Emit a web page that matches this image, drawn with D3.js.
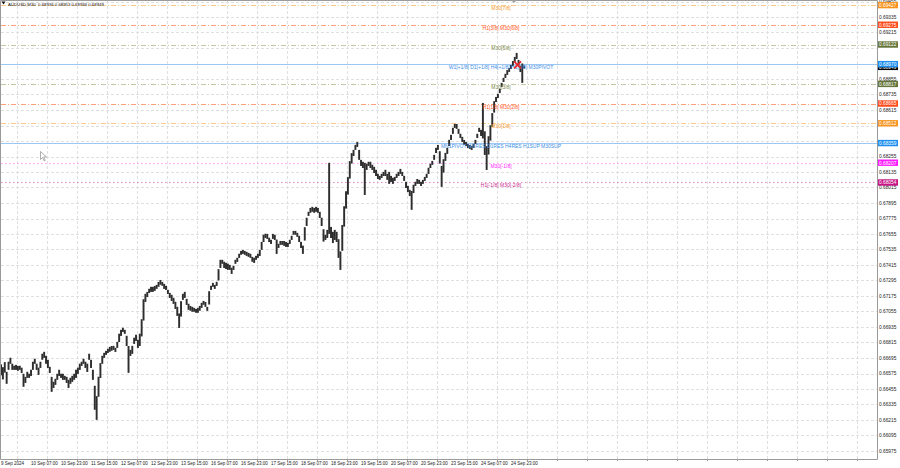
<!DOCTYPE html>
<html><head><meta charset="utf-8">
<script src="https://cdn.jsdelivr.net/npm/d3@7"></script>
<style>html,body{margin:0;padding:0;background:#fff;}svg{display:block;font-family:"Liberation Sans",Arial,sans-serif;}</style>
</head><body><svg id="c" width="900" height="468"></svg>
<script>
const symbolTitle = "AUDUSD,M30  0.68936 0.68953 0.68936 0.68949";
const lastPrice = 0.68949;
// hourly high / low (bar 0 = 9 Sep 15:00)
const barHighs = [
0.66646,0.66624,0.66663,0.66588,0.66666,0.66697,0.66651,0.66635,0.66642,0.66634,0.66635,0.66620,0.66573,0.66549,0.66588,0.66573,
0.66604,0.66666,0.66689,0.66651,0.66620,0.66666,0.66728,0.66743,0.66712,0.66681,0.66627,0.66549,0.66511,0.66534,0.66573,0.66604,
0.66573,0.66573,0.66557,0.66549,0.66526,0.66542,0.66557,0.66573,0.66604,0.66620,0.66651,0.66666,0.66689,0.66666,0.66651,0.66728,
0.66681,0.66604,0.66480,0.66400,0.66550,0.66655,0.66712,0.66735,0.66750,0.66766,0.66781,0.66788,0.66789,0.66774,0.66820,0.66883,
0.66913,0.66929,0.66913,0.66867,0.66788,0.66758,0.66789,0.66852,0.66875,0.66836,0.66883,0.66995,0.67150,0.67192,0.67207,0.67231,
0.67246,0.67246,0.67253,0.67261,0.67284,0.67299,0.67284,0.67269,0.67254,0.67223,0.67199,0.67184,0.67161,0.67130,0.67091,0.67040,
0.67135,0.67192,0.67207,0.67153,0.67115,0.67098,0.67091,0.67083,0.67075,0.67083,0.67098,0.67122,0.67137,0.67129,0.67091,0.67212,
0.67254,0.67277,0.67261,0.67285,0.67383,0.67455,0.67455,0.67440,0.67432,0.67425,0.67416,0.67394,0.67409,0.67455,0.67471,0.67502,
0.67524,0.67531,0.67524,0.67517,0.67509,0.67502,0.67478,0.67471,0.67486,0.67502,0.67532,0.67594,0.67649,0.67657,0.67656,0.67626,
0.67610,0.67656,0.67649,0.67612,0.67579,0.67601,0.67601,0.67601,0.67593,0.67586,0.67610,0.67641,0.67679,0.67679,0.67664,0.67641,
0.67594,0.67565,0.67708,0.67781,0.67827,0.67857,0.67865,0.67857,0.67865,0.67857,0.67827,0.67781,0.67692,0.67649,0.67687,0.68206,
0.67710,0.67672,0.67687,0.67672,0.67615,0.67520,0.67725,0.67870,0.67986,0.68095,0.68219,0.68281,0.68306,0.68345,0.68367,0.68306,
0.68229,0.68214,0.68206,0.68199,0.68214,0.68214,0.68191,0.68175,0.68152,0.68121,0.68105,0.68121,0.68136,0.68152,0.68121,0.68136,
0.68105,0.68090,0.68097,0.68121,0.68136,0.68159,0.68136,0.68105,0.68059,0.68028,0.67997,0.67988,0.68036,0.68059,0.68081,0.68074,
0.68059,0.68074,0.68097,0.68121,0.68168,0.68199,0.68221,0.68268,0.68322,0.68345,0.68296,0.68182,0.68234,0.68283,0.68322,0.68384,
0.68423,0.68477,0.68508,0.68507,0.68469,0.68431,0.68407,0.68383,0.68367,0.68352,0.68344,0.68336,0.68353,0.68384,0.68431,0.68477,
0.68461,0.68670,0.68450,0.68335,0.68412,0.68497,0.68591,0.68683,0.68716,0.68740,0.68779,0.68825,0.68864,0.68895,0.68924,0.68940,
0.68963,0.68994,0.69026,0.69057,0.69003,0.68956,0.68975,0.68960];
const barLows = [
0.66561,0.66529,0.66582,0.66495,0.66603,0.66650,0.66603,0.66603,0.66603,0.66596,0.66603,0.66579,0.66472,0.66502,0.66541,0.66541,
0.66556,0.66603,0.66650,0.66603,0.66564,0.66618,0.66681,0.66696,0.66650,0.66618,0.66579,0.66433,0.66463,0.66487,0.66526,0.66556,
0.66541,0.66526,0.66526,0.66502,0.66463,0.66495,0.66510,0.66526,0.66541,0.66572,0.66603,0.66634,0.66650,0.66618,0.66587,0.66681,
0.66618,0.66526,0.66294,0.66216,0.66395,0.66540,0.66650,0.66696,0.66719,0.66734,0.66743,0.66751,0.66758,0.66742,0.66773,0.66819,
0.66866,0.66897,0.66882,0.66788,0.66580,0.66711,0.66727,0.66804,0.66827,0.66773,0.66788,0.66862,0.66985,0.67129,0.67167,0.67198,
0.67207,0.67207,0.67215,0.67230,0.67246,0.67262,0.67254,0.67230,0.67222,0.67191,0.67160,0.67137,0.67114,0.67075,0.67021,0.66928,
0.67016,0.67145,0.67160,0.67106,0.67068,0.67061,0.67053,0.67053,0.67045,0.67045,0.67061,0.67083,0.67107,0.67091,0.67060,0.67109,
0.67222,0.67246,0.67230,0.67253,0.67295,0.67392,0.67424,0.67392,0.67384,0.67377,0.67377,0.67346,0.67377,0.67424,0.67439,0.67470,
0.67494,0.67501,0.67494,0.67485,0.67478,0.67470,0.67440,0.67431,0.67455,0.67470,0.67485,0.67532,0.67593,0.67624,0.67617,0.67593,
0.67578,0.67617,0.67609,0.67501,0.67547,0.67571,0.67571,0.67563,0.67555,0.67555,0.67578,0.67609,0.67649,0.67649,0.67633,0.67593,
0.67547,0.67501,0.67604,0.67717,0.67795,0.67819,0.67827,0.67819,0.67827,0.67819,0.67779,0.67717,0.67596,0.67609,0.67624,0.67656,
0.67624,0.67585,0.67609,0.67593,0.67470,0.67377,0.67525,0.67712,0.67852,0.67960,0.68084,0.68200,0.68259,0.68306,0.68329,0.68229,
0.68182,0.68166,0.67957,0.68151,0.68182,0.68166,0.68151,0.68127,0.68104,0.68081,0.68074,0.68089,0.68104,0.68104,0.68074,0.68043,
0.68058,0.68043,0.68066,0.68089,0.68104,0.68120,0.68104,0.68066,0.68011,0.67980,0.67949,0.67842,0.67972,0.68027,0.68043,0.68043,
0.68027,0.68043,0.68066,0.68089,0.68120,0.68166,0.68190,0.68229,0.68282,0.68306,0.68200,0.68020,0.68130,0.68221,0.68275,0.68336,
0.68383,0.68430,0.68476,0.68469,0.68430,0.68398,0.68368,0.68345,0.68337,0.68321,0.68314,0.68306,0.68321,0.68352,0.68398,0.68445,
0.68414,0.68395,0.68267,0.68151,0.68270,0.68378,0.68486,0.68595,0.68677,0.68708,0.68746,0.68793,0.68832,0.68863,0.68887,0.68910,
0.68933,0.68956,0.68986,0.69010,0.68955,0.68909,0.68825,0.68936];
const timeLabels = ["9 Sep 2024","10 Sep 07:00","10 Sep 23:00","11 Sep 15:00","12 Sep 07:00","12 Sep 23:00","13 Sep 15:00","16 Sep 07:00","16 Sep 23:00","17 Sep 15:00","18 Sep 07:00","18 Sep 23:00","19 Sep 15:00","20 Sep 07:00","20 Sep 23:00","23 Sep 15:00","24 Sep 07:00","24 Sep 23:00"];
const priceTicks = ["0.69455","0.69335","0.69215","0.69095","0.68975","0.68855","0.68735","0.68615","0.68495","0.68375","0.68255","0.68135","0.68015","0.67895","0.67775","0.67655","0.67535","0.67415","0.67295","0.67175","0.67055","0.66935","0.66815","0.66695","0.66575","0.66455","0.66335","0.66215","0.66095","0.65975"];
const levelPrices = [0.69427,0.69275,0.69122,0.68970,0.68817,0.68665,0.68512,0.68359,0.68207,0.68054];
const levelNames = ["M30[7/8]","H1[3/8] M30[6/8]","M30[5/8]","W1[+1/8] D1[+1/8] H4[+1/8] H1[4/8] M30PIVOT","M30[3/8]","H1[1/8] M30[2/8]","M30[1/8]","MN1PIVOT W1RES D1RES H4RES H1SUP M30SUP","M30[-1/8]","H1[-1/8] M30[-2/8]"];
const levelTextColors = ["#f59a2a","#ff5522","#7e8a4e","#3d8fe6","#7e8a4e","#ff5522","#f59a2a","#3d8fe6","#ff22ff","#cc2a8f"];
const levelLineColors = ["#ffc98a","#ffa07a","#c4c8a4","#9cc6f4","#c4c8a4","#ffa07a","#ffc98a","#9cc6f4","#ff9cff","#e08cc0"];
const levelBoxColors = ["#f7931e","#ff4a1a","#66763a","#1e8ff0","#66763a","#ff4a1a","#f7931e","#1e8ff0","#ff1aff","#c71585"];
const levelDash = ["5,2,1,2","5,2,1,2","5,2,1,2",null,"5,2,1,2","5,2,1,2","5,2,1,2",null,"1.5,2.5","1.5,2.5"];

const svg = d3.select("#c");
const R = 877, B = 459;
const x = d3.scaleLinear().domain([0, 16]).range([1, 31]);
const y = d3.scaleLinear().domain([0.65975, 0.69335]).range([451, 17]);
const step = x(1) - x(0);
const nBars = (R - 1) / step;

svg.append("rect").attr("width",900).attr("height",468).attr("fill","#fff");

// grid
const g = svg.append("g");
const vgrid = d3.range(8.5, nBars, 16);
g.selectAll("line.v").data(vgrid).join("line")
  .attr("x1",d=>Math.round(x(d))+0.5).attr("x2",d=>Math.round(x(d))+0.5)
  .attr("y1",1).attr("y2",B).attr("stroke","#e0e0e0").attr("stroke-dasharray","3,2");
g.selectAll("line.h").data(priceTicks).join("line")
  .attr("x1",1).attr("x2",R).attr("y1",d=>Math.round(y(+d))+0.5).attr("y2",d=>Math.round(y(+d))+0.5)
  .attr("stroke","#e0e0e0").attr("stroke-dasharray","3,2");

// level lines
levelPrices.forEach((p,i)=>{
  const ly = Math.round(y(p))+0.5;
  svg.append("line").attr("x1",1).attr("x2",R).attr("y1",ly).attr("y2",ly)
    .attr("stroke",levelLineColors[i]).attr("stroke-width",1)
    .attr("stroke-dasharray",levelDash[i]);
});

// bars (high-low ranges)
svg.append("g").selectAll("rect").data(barHighs).join("rect")
  .attr("x",(d,i)=>x(i)-step/2).attr("width",step+0.05)
  .attr("y",d=>y(d)).attr("height",(d,i)=>Math.max(y(barLows[i])-y(d), 1.2))
  .attr("fill","#2e2e2e");

// level labels
levelPrices.forEach((p,i)=>{
  svg.append("text").attr("x",501).attr("y",y(p)+5).attr("text-anchor","middle")
    .attr("font-size",5).attr("fill",levelTextColors[i]).text(levelNames[i]);
});

// red cross marker
const cx = x(275.5), cy = y(0.68965);
svg.append("path").attr("d",`M${cx-3.5},${cy-3.5}L${cx+3.5},${cy+3.5}M${cx+3.5},${cy-3.5}L${cx-3.5},${cy+3.5}`)
  .attr("stroke","#e8262b").attr("stroke-width",1.7);

// frame
svg.append("path").attr("d",`M0.5,0.5H${R+0.5}V${B+0.5}H0.5Z`).attr("fill","none").attr("stroke","#9a9a9a");
svg.append("path").attr("d","M511,0L517,0L514,3Z").attr("fill","#a0a0a0");

// price axis labels (those hidden under a price box are skipped)
const boxPrices = levelPrices.concat([lastPrice]);
const visibleTicks = priceTicks.filter(t => boxPrices.every(p => Math.abs(y(+t) - y(p)) >= 3.55));
svg.append("g").selectAll("text").data(visibleTicks).join("text")
  .attr("x",879).attr("y",d=>y(+d)+1.8).attr("font-size",4.8).attr("fill","#222").text(d=>d);

function box(p, color){
  const by = y(p);
  svg.append("rect").attr("x",878).attr("y",by-3.2).attr("width",20).attr("height",6.4).attr("fill",color);
  svg.append("text").attr("x",879).attr("y",by+1.8).attr("font-size",4.8).attr("fill","#fff").text(p.toFixed(5));
}
box(lastPrice, "#000");
levelPrices.forEach((p,i)=>box(p, levelBoxColors[i]));

// time axis
svg.append("g").selectAll("text").data(timeLabels).join("text")
  .attr("x",(d,i)=>x(i*16)).attr("y",465).attr("font-size",4.5).attr("fill","#222").text(d=>d);
svg.append("g").selectAll("line").data(vgrid).join("line")
  .attr("x1",d=>Math.round(x(d))+0.5).attr("x2",d=>Math.round(x(d))+0.5)
  .attr("y1",B).attr("y2",B+2).attr("stroke","#9a9a9a");

// header
svg.append("path").attr("d","M1.5,1.5L5.5,1.5L3.5,4.5Z").attr("fill","#111");
svg.append("text").attr("x",8).attr("y",5.5).attr("font-size",4.3).attr("fill","#111")
  .attr("xml:space","preserve").style("white-space","pre").text(symbolTitle);

// mouse pointer
svg.append("path").attr("d","M40.5,151.5v8l2,-2l1.6,3.4l1.2,-0.6l-1.6,-3.3h2.8z")
  .attr("fill","#fff").attr("stroke","#777").attr("stroke-width",0.6);
</script></body></html>
